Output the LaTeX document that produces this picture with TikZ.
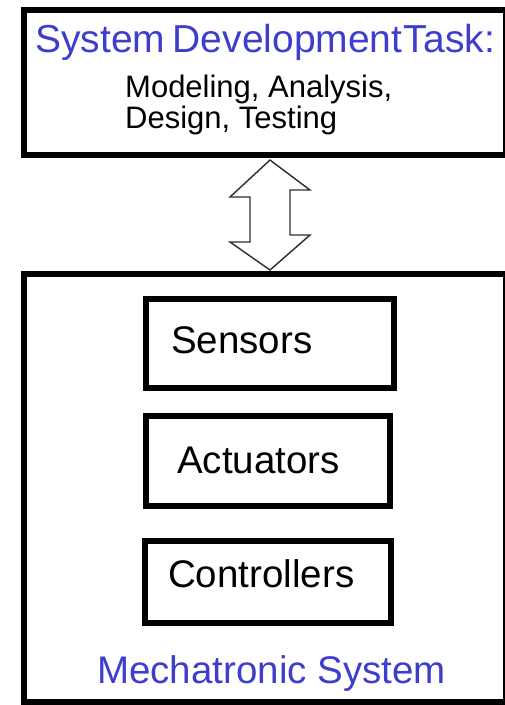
\documentclass[tikz,border=0pt]{standalone}
\usepackage{fontspec}
\setmainfont{Liberation Sans}
\usetikzlibrary{calc}
\definecolor{headblue}{RGB}{62,62,205}
\definecolor{arrowline}{RGB}{45,45,45}

\begin{document}
\begin{tikzpicture}[x=1pt,y=-1pt,
  frame/.style={draw=black, line width=6pt, inner sep=0pt, fill=white},
  unitbox/.style={draw=black, line width=6pt, inner sep=0pt},
  boxtext/.style={anchor=base west, inner sep=0pt, font=\fontsize{38.5}{40}\selectfont},
  headtext/.style={anchor=base west, inner sep=0pt, text=headblue},
  subtext/.style={anchor=base west, inner sep=0pt, align=left,
    font=\fontsize{31}{31}\selectfont}]
\useasboundingbox (0,0) rectangle (505,705);
\fill[white] (0,0) rectangle (505,705);

% outer frames
\node[frame, minimum width=482pt, minimum height=145pt] (task) at (265,82.5) {};
\node[frame, minimum width=482pt, minimum height=428pt] (mech) at (265,488) {};

% task description (base anchor of the list sits on its last line)
\node[headtext, font=\fontsize{39}{40}\selectfont] (taskTitle) at (35,52)
  {System\hspace{7.5pt}Development\hspace{1.5pt}Task:};
\node[subtext] (taskList) at (125,128) {Modeling, Analysis,\\Design, Testing};

% components of the system
\node[unitbox, minimum width=248pt, minimum height=89pt] (sensors) at (270,343) {};
\node[unitbox, minimum width=243.5pt, minimum height=89.5pt] (actuators) at (267.75,460.75) {};
\node[unitbox, minimum width=246pt, minimum height=81.5pt] (controllers) at (268,581.75) {};

\node[boxtext] (sensorsText) at (171,353) {Sensors};
\node[boxtext] (actuatorsText) at (177,473) {Actuators};
\node[boxtext] (controllersText) at (168,587) {Controllers};

\node[headtext, font=\fontsize{38.5}{40}\selectfont] (mechTitle) at (97,683) {Mechatronic System};

% two-way hollow arrow between the frames
\coordinate (upTip) at ($(task.south)+(5,2)$);
\coordinate (downTip) at ($(mech.north)+(5,-1)$);
\draw[arrowline, line width=1.4pt, line join=miter, fill=white]
  (upTip) -- ++(-40,37) -- ++(20,0) -- ++(0,45) -- ++(-20,0)
  -- (downTip) -- ++(40,-35) -- ++(-20,0) -- ++(0,-45) -- ++(20,0) -- cycle;
\end{tikzpicture}
\end{document}
